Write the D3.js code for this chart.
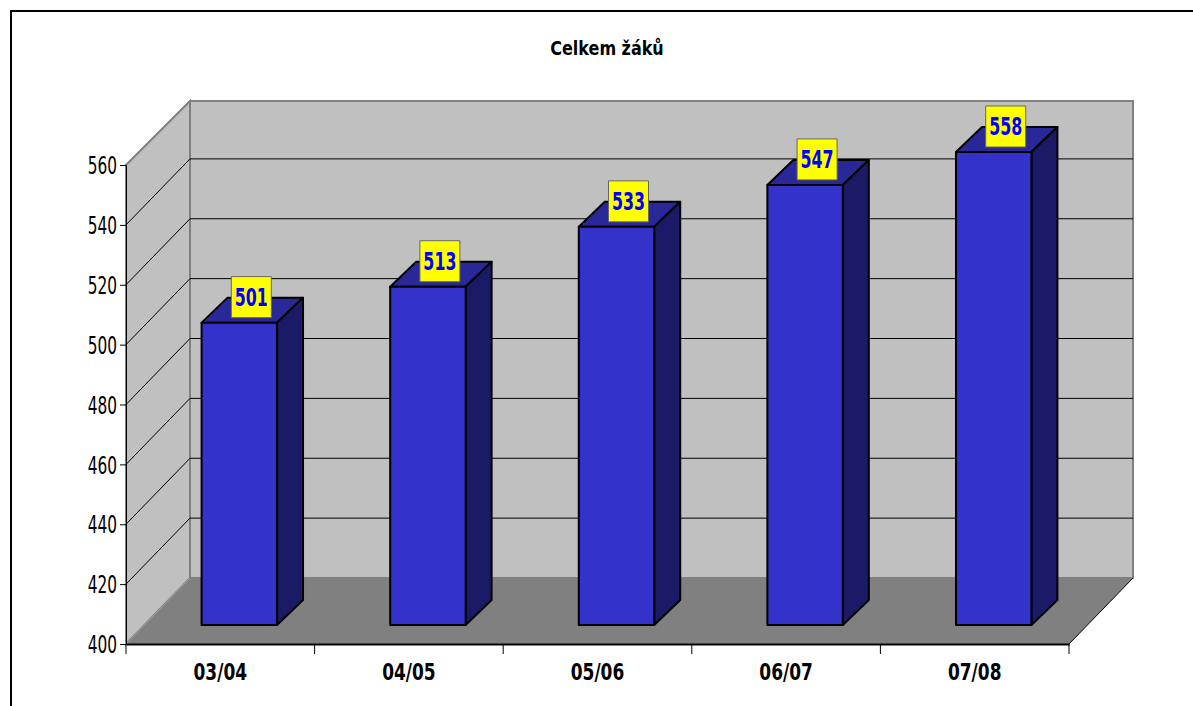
<!DOCTYPE html>
<html>
<head>
<meta charset="utf-8">
<script src="https://cdn.jsdelivr.net/npm/d3@7"></script>
<style>
html, body { margin: 0; padding: 0; background: #fff; overflow: hidden; }
svg { display: block; }
text { font-family: "DejaVu Sans", sans-serif; fill: #000; }
</style>
</head>
<body>
<svg></svg>
<script>
var title = "Celkem žáků";
var categories = ["03/04", "04/05", "05/06", "06/07", "07/08"];
var values = [501, 513, 533, 547, 558];
var yTicks = [400, 420, 440, 460, 480, 500, 520, 540, 560];

var width = 1193, height = 706;
var depthX = 64, depthY = -66;      // wall depth
var barDepthX = 26, barDepthY = -25;
var floorInset = 19;

var svg = d3.select("svg").attr("width", width).attr("height", height);

var x = d3.scaleBand().domain(categories).range([126, 1069]);
var y = d3.scaleLinear().domain([400, 560]).range([644, 165]);
var barWidth = x.bandwidth() * 0.4;
var x0 = x.range()[0], x1 = x.range()[1];
var yBottom = y(400), yTop = y(560);
var wallTop = yTop + depthY + 2;

function poly(points) {
	return points.map(function(p) { return p.join(","); }).join(" ");
}

// squeezes text sideways, the source font is much narrower than DejaVu
function squeeze(sel, k) {
	sel.each(function() {
		var t = d3.select(this);
		var tx = +t.attr("x") || 0, ty = +t.attr("y") || 0;
		t.attr("transform", "translate(" + tx + "," + ty + ") scale(" + k + ",1)")
			.attr("x", 0).attr("y", 0);
	});
}

// outer frame, only top and left are in the picture
svg.append("path")
	.attr("d", "M11,706V11H1193")
	.attr("fill", "none")
	.attr("stroke", "#000")
	.attr("stroke-width", 2);

var titleText = svg.append("text")
	.attr("x", 607).attr("y", 55)
	.attr("text-anchor", "middle")
	.attr("font-size", 20)
	.attr("font-weight", "bold")
	.text(title);
squeeze(titleText, 0.8);

// back wall
svg.append("polygon")
	.attr("points", poly([[x0 + depthX, wallTop], [x1 + depthX, wallTop], [x1 + depthX, yBottom + depthY], [x0 + depthX, yBottom + depthY]]))
	.attr("fill", "#c0c0c0")
	.attr("stroke", "#808080")
	.attr("stroke-width", 2);

// left wall
svg.append("polygon")
	.attr("points", poly([[x0, yTop], [x0 + depthX, wallTop], [x0 + depthX, yBottom + depthY], [x0, yBottom]]))
	.attr("fill", "#c0c0c0")
	.attr("stroke", "#808080")
	.attr("stroke-width", 2);

// floor
svg.append("polygon")
	.attr("points", poly([[x0, yBottom], [x0 + depthX, yBottom + depthY], [x1 + depthX, yBottom + depthY], [x1, yBottom]]))
	.attr("fill", "#808080");

svg.append("line")
	.attr("x1", x1).attr("y1", yBottom)
	.attr("x2", x1 + depthX).attr("y2", yBottom + depthY)
	.attr("stroke", "#000");

// gridlines
var grid = svg.append("g").attr("fill", "none").attr("stroke", "#000").attr("stroke-width", 1);
yTicks.slice(1, -1).forEach(function(t) {
	grid.append("polyline")
		.attr("points", poly([[x0, y(t)], [x0 + depthX, y(t) + depthY], [x1 + depthX, y(t) + depthY]]));
});
grid.append("line")
	.attr("x1", x0).attr("y1", yBottom)
	.attr("x2", x0 + depthX).attr("y2", yBottom + depthY)
	.attr("stroke", "#a0a0a0");

// axes
var yAxis = svg.append("g")
	.attr("transform", "translate(" + x0 + ",0)")
	.call(d3.axisLeft(y).tickValues(yTicks).tickSize(6).tickSizeOuter(0).tickPadding(3).tickFormat(d3.format("d")));
yAxis.selectAll("text").attr("font-size", 24).attr("font-family", "DejaVu Sans").attr("dy", "0.36em");
squeeze(yAxis.selectAll(".tick text").attr("x", -9).attr("y", 0), 0.64);

var xAxis = svg.append("g")
	.attr("transform", "translate(0," + yBottom + ")")
	.call(d3.axisBottom(x).tickSize(0).tickPadding(0));
xAxis.select(".domain").attr("stroke-width", 2);
xAxis.selectAll("text").attr("font-size", 23).attr("font-weight", "bold").attr("font-family", "DejaVu Sans").attr("dy", null);
squeeze(xAxis.selectAll(".tick text").attr("x", 0).attr("y", 36), 0.74);

var sepTicks = categories.map(function(c) { return x(c); }).concat([x1]);
svg.append("g").selectAll("line").data(sepTicks).join("line")
	.attr("x1", function(d) { return d; }).attr("x2", function(d) { return d; })
	.attr("y1", yBottom).attr("y2", yBottom + 10)
	.attr("stroke", "#000");

// bars
var bars = svg.append("g").selectAll("g").data(values).join("g")
	.attr("transform", function(d, i) {
		var left = x(categories[i]) + (x.bandwidth() - barWidth) / 2 + floorInset;
		return "translate(" + left + ",0)";
	})
	.attr("stroke", "#000")
	.attr("stroke-width", 2)
	.attr("stroke-linejoin", "round");

function barTop(d) { return y(d) - floorInset; }
var base = yBottom - floorInset;

bars.append("polygon")
	.attr("fill", "#282899")
	.attr("points", function(d) {
		return poly([[0, barTop(d)], [barDepthX, barTop(d) + barDepthY], [barWidth + barDepthX, barTop(d) + barDepthY], [barWidth, barTop(d)]]);
	});
bars.append("polygon")
	.attr("fill", "#1a1a66")
	.attr("points", function(d) {
		return poly([[barWidth, barTop(d)], [barWidth + barDepthX, barTop(d) + barDepthY], [barWidth + barDepthX, base + barDepthY], [barWidth, base]]);
	});
bars.append("rect")
	.attr("fill", "#3333cc")
	.attr("width", barWidth)
	.attr("y", barTop)
	.attr("height", function(d) { return base - barTop(d); });

// value labels
var labels = bars.append("g")
	.attr("transform", function(d) { return "translate(" + (barWidth / 2 + 12) + "," + (barTop(d) - 25.5) + ")"; });
labels.append("rect")
	.attr("x", -20).attr("y", -20.5)
	.attr("width", 40).attr("height", 41)
	.attr("fill", "#ffff00")
	.attr("stroke", "#666")
	.attr("stroke-width", 1);
labels.append("text")
	.attr("text-anchor", "middle")
	.attr("font-size", 24)
	.attr("font-weight", "bold")
	.attr("transform", "translate(0,9) scale(0.66,1)")
	.attr("stroke", "none")
	.style("fill", "#0000ff")
	.text(function(d) { return d; });
</script>
</body>
</html>
